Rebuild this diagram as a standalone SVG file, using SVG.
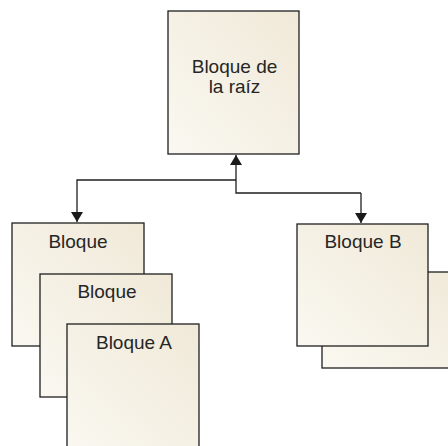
<svg xmlns="http://www.w3.org/2000/svg" width="448" height="446" viewBox="0 0 448 446">
  <defs>
    <linearGradient id="cream" x1="0" y1="1" x2="1" y2="0">
      <stop offset="0" stop-color="#faf8f1"/>
      <stop offset="1" stop-color="#f0e9d8"/>
    </linearGradient>
    <marker id="arrow" viewBox="0 0 10 12" refX="10" refY="6" markerWidth="10" markerHeight="12" markerUnits="userSpaceOnUse" orient="auto">
      <path d="M0,0 L10,6 L0,12 z" fill="#1a1a1a"/>
    </marker>
    <style>
      .box { fill: url(#cream); stroke: #1f1f1f; stroke-width: 1.3; }
      .wire { fill: none; stroke: #1f1f1f; stroke-width: 1.3; }
      .label { font-family: "Liberation Sans", Arial, sans-serif; font-size: 19px; fill: #262626; text-anchor: middle; }
    </style>
  </defs>
  <rect width="448" height="446" fill="#ffffff"/>

  <g id="connectors">
    <path class="wire" d="M236,180 H77 V222" marker-end="url(#arrow)"/>
    <path class="wire" d="M361,193 H236 V155" marker-end="url(#arrow)"/>
    <path class="wire" d="M361,193 V223" marker-end="url(#arrow)"/>
  </g>

  <g id="root">
    <rect class="box" x="168" y="11" width="131" height="143"/>
    <text class="label" x="234.5" y="72.5">Bloque de</text>
    <text class="label" x="234.5" y="92.5">la raíz</text>
  </g>

  <g id="bloque-1">
    <rect class="box" x="12" y="223" width="132" height="123"/>
    <text class="label" x="78" y="247.5">Bloque</text>
  </g>
  <g id="bloque-2">
    <rect class="box" x="40" y="274" width="132" height="123"/>
    <text class="label" x="107" y="298">Bloque</text>
  </g>
  <g id="bloque-a">
    <rect class="box" x="67" y="324" width="132" height="130"/>
    <text class="label" x="134" y="349">Bloque A</text>
  </g>

  <g id="bloque-b-back">
    <rect class="box" x="322" y="272" width="140" height="96"/>
  </g>
  <g id="bloque-b">
    <rect class="box" x="297" y="224" width="131" height="122"/>
    <text class="label" x="363" y="247.5">Bloque B</text>
  </g>
</svg>
